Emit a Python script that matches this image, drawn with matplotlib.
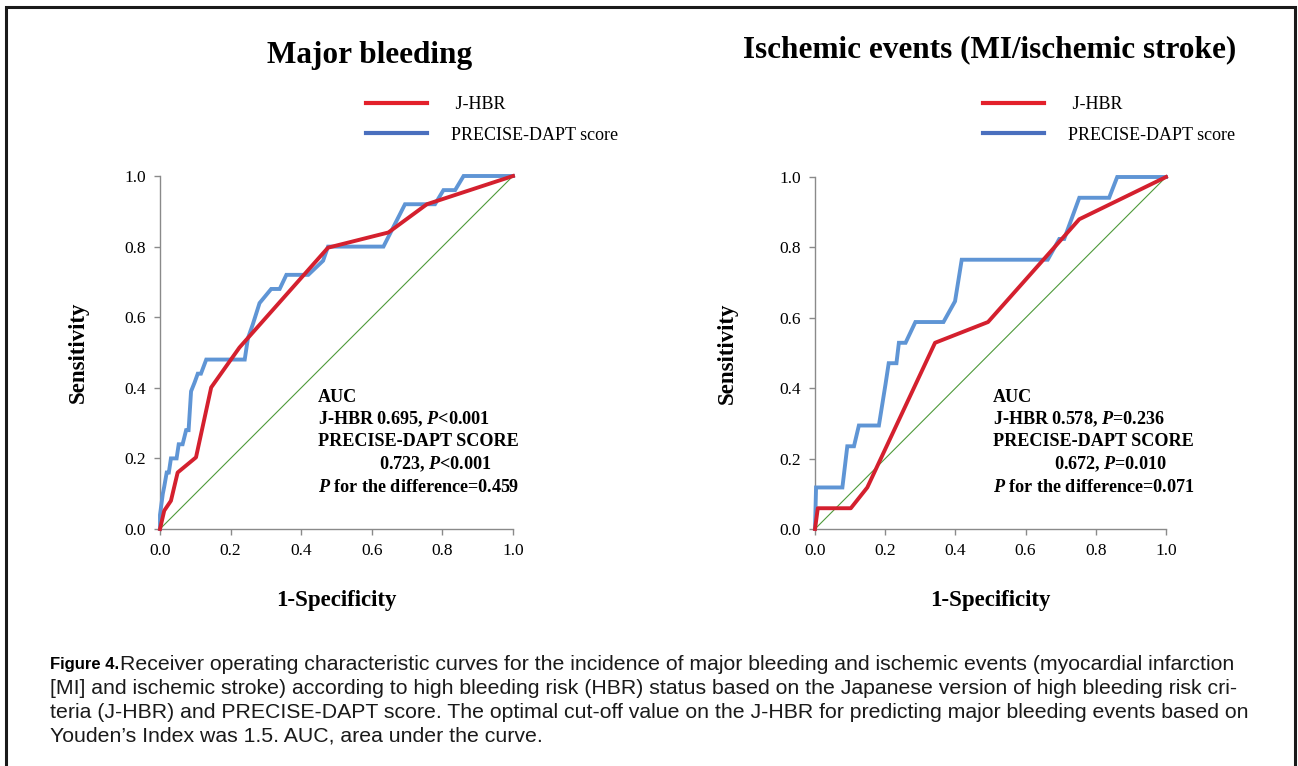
import matplotlib
matplotlib.use("Agg")
import matplotlib.pyplot as plt
from matplotlib.lines import Line2D
from matplotlib.patches import Rectangle

# --- data ---
# Major bleeding
mb_jhbr_fpr = [0, 0.012, 0.031, 0.050, 0.102, 0.145, 0.225, 0.476, 0.647, 0.756, 1.0]
mb_jhbr_sens = [0, 0.052, 0.080, 0.160, 0.203, 0.401, 0.514, 0.797, 0.840, 0.920, 1.0]
mb_pd_fpr = [0, 0, 0.008, 0.012, 0.019, 0.025, 0.031, 0.047, 0.053, 0.064, 0.074, 0.081,
             0.088, 0.098, 0.107, 0.116, 0.131, 0.240, 0.249, 0.263, 0.282, 0.315, 0.339,
             0.358, 0.420, 0.462, 0.476, 0.633, 0.694, 0.779, 0.803, 0.836, 0.860, 1.0]
mb_pd_sens = [0, 0.04, 0.10, 0.12, 0.16, 0.16, 0.20, 0.20, 0.24, 0.24, 0.28, 0.28,
              0.39, 0.415, 0.44, 0.44, 0.48, 0.48, 0.54, 0.58, 0.64, 0.68, 0.68,
              0.72, 0.72, 0.76, 0.80, 0.80, 0.92, 0.92, 0.96, 0.96, 1.0, 1.0]

# Ischemic events
ie_jhbr_fpr = [0, 0.008, 0.102, 0.149, 0.342, 0.493, 0.753, 1.0]
ie_jhbr_sens = [0, 0.059, 0.059, 0.118, 0.529, 0.588, 0.880, 1.0]
ie_pd_fpr = [0, 0.003, 0.078, 0.092, 0.111, 0.125, 0.182, 0.201, 0.210, 0.232, 0.239,
             0.258, 0.286, 0.366, 0.399, 0.418, 0.663, 0.696, 0.710, 0.753, 0.838, 0.861, 1.0]
ie_pd_sens = [0, 0.118, 0.118, 0.235, 0.235, 0.294, 0.294, 0.412, 0.471, 0.471, 0.529,
              0.529, 0.588, 0.588, 0.647, 0.765, 0.765, 0.824, 0.824, 0.941, 0.941, 1.0, 1.0]

ticks = [0.0, 0.2, 0.4, 0.6, 0.8, 1.0]
tick_labels = ["0.0", "0.2", "0.4", "0.6", "0.8", "1.0"]

titles = ["Major bleeding", "Ischemic events (MI/ischemic stroke)"]
legend_labels = [" J-HBR", "PRECISE-DAPT score"]
auc_lines = [
    ["AUC", r"J-HBR 0.695, $P$<0.001", "PRECISE-DAPT SCORE",
     r"0.723, $P$<0.001", r"$P$ for the difference=0.459"],
    ["AUC", r"J-HBR 0.578, $P$=0.236", "PRECISE-DAPT SCORE",
     r"0.672, $P$=0.010", r"$P$ for the difference=0.071"],
]
caption_head = "Figure 4."
caption_lines = [
    "Receiver operating characteristic curves for the incidence of major bleeding and ischemic events (myocardial infarction",
    "[MI] and ischemic stroke) according to high bleeding risk (HBR) status based on the Japanese version of high bleeding risk cri-",
    "teria (J-HBR) and PRECISE-DAPT score. The optimal cut-off value on the J-HBR for predicting major bleeding events based on",
    "Youden\u2019s Index was 1.5. AUC, area under the curve.",
]

RED = "#d4202e"
BLUE = "#5f95d5"
LEG_RED = "#e3202a"
LEG_BLUE = "#4a6fbe"
GREEN = "#4e9a3a"
SERIF = "Liberation Serif"

plt.rcParams["font.family"] = SERIF
plt.rcParams["mathtext.fontset"] = "custom"
plt.rcParams["mathtext.it"] = "Liberation Serif:italic:bold"
plt.rcParams["mathtext.rm"] = "Liberation Serif:bold"

W, H = 1298, 766
fig = plt.figure(figsize=(W / 100, H / 100), dpi=100)

def fx(px):
    return px / W

def fy(py):
    return 1 - py / H

panels = [
    dict(rect=[fx(160), fy(529), fx(513) - fx(160), fy(176) - fy(529)],
         jf=mb_jhbr_fpr, js=mb_jhbr_sens, pf=mb_pd_fpr, ps=mb_pd_sens,
         title_xy=(370, 55), leg_x=366, auc_x=318, auc_x2=379, ylab_x=-0.203),
    dict(rect=[fx(815), fy(529), fx(1166) - fx(815), fy(177) - fy(529)],
         jf=ie_jhbr_fpr, js=ie_jhbr_sens, pf=ie_pd_fpr, ps=ie_pd_sens,
         title_xy=(990, 50), leg_x=983, auc_x=993, auc_x2=1054, ylab_x=-0.22),
]

for i, p in enumerate(panels):
    ax = fig.add_axes(p["rect"])
    ax.plot([0, 1], [0, 1], color=GREEN, lw=0.8, clip_on=False, zorder=2)
    ax.plot(p["pf"], p["ps"], color=BLUE, lw=2.8, clip_on=False, zorder=3,
            solid_joinstyle="miter")
    ax.plot(p["jf"], p["js"], color=RED, lw=2.8, clip_on=False, zorder=4,
            solid_joinstyle="round")
    ax.set_xlim(0, 1)
    ax.set_ylim(0, 1)
    ax.set_xticks(ticks)
    ax.set_yticks(ticks)
    ax.set_xticklabels(tick_labels)
    ax.set_yticklabels(tick_labels)
    for s in ["top", "right"]:
        ax.spines[s].set_visible(False)
    for s in ["left", "bottom"]:
        ax.spines[s].set_color("#8a8a8a")
        ax.spines[s].set_linewidth(1.0)
    ax.tick_params(length=4, width=1, color="#8a8a8a", labelsize=12.5, pad=6)
    ax.set_xlabel("1-Specificity", fontsize=16.5, fontweight="bold")
    ax.set_ylabel("Sensitivity", fontsize=16.5, fontweight="bold")
    ax.xaxis.set_label_coords(0.5, -0.172)
    ax.yaxis.set_label_coords(p["ylab_x"], 0.5)

    tx, ty = p["title_xy"]
    fig.text(fx(tx), fy(ty), titles[i], fontsize=22.5, fontweight="bold",
             ha="center", va="center")

    handles = [Line2D([], [], color=LEG_RED, lw=3.0),
               Line2D([], [], color=LEG_BLUE, lw=3.0)]
    fig.legend(handles, legend_labels, loc="center left",
               bbox_to_anchor=(fx(p["leg_x"]), fy(120)), frameon=False,
               fontsize=13, handlelength=3.4, handletextpad=1.3,
               labelspacing=0.75, borderpad=0, borderaxespad=0)

    for k, line in enumerate(auc_lines[i]):
        x0 = p["auc_x2"] if k == 3 else p["auc_x"]
        fig.text(fx(x0), fy(397 + k * 22.5), line, fontsize=13.1,
                 fontweight="bold", ha="left", va="center")

# caption
fig.text(fx(50), fy(665), caption_head, fontsize=12, fontweight="bold",
         family="Liberation Sans", ha="left", va="center")
for k, line in enumerate(caption_lines):
    x0 = 120 if k == 0 else 50
    fig.text(fx(x0), fy(665 + k * 23.6), line, fontsize=15.3,
             family="Liberation Sans", color="#1a1a1a", ha="left", va="center")

# outer frame
fig.add_artist(Rectangle((fx(6), fy(800)), fx(1295) - fx(6), fy(7) - fy(800),
                         transform=fig.transFigure, fill=False, lw=2.2,
                         edgecolor="#1a1a1a", clip_on=False))

fig.savefig("out.png", dpi=100)
